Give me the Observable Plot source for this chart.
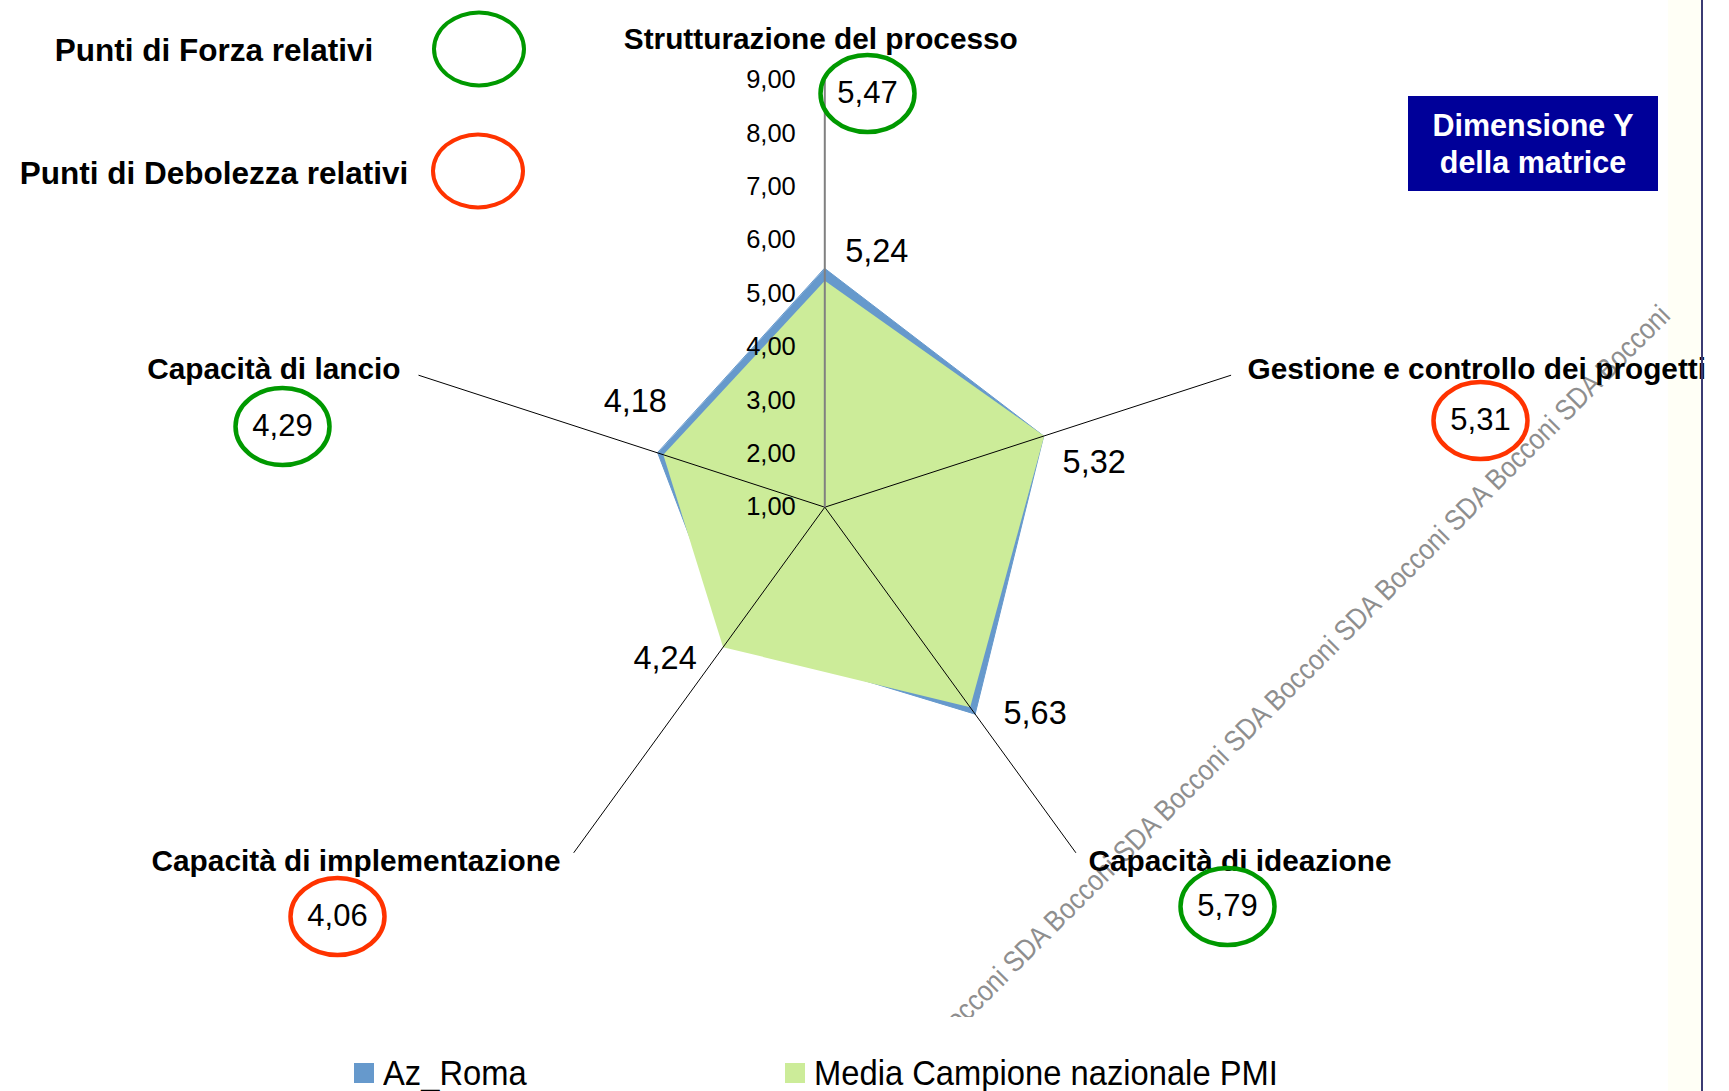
<!DOCTYPE html>
<html>
<head>
<meta charset="utf-8">
<script src="https://cdn.jsdelivr.net/npm/d3@7"></script>
<script src="https://cdn.jsdelivr.net/npm/@observablehq/plot@0.6"></script>
<style>
  html, body { margin: 0; padding: 0; background: #fff; }
  #wrap { position: relative; width: 1729px; height: 1091px; overflow: hidden; background: #fff;
          font-family: "Liberation Sans", Arial, Helvetica, sans-serif; color: #000; }
  #wm { position: absolute; left: 0; top: 0; width: 1729px; height: 1017px; overflow: hidden; z-index: 0; }
  #wmtext { position: absolute; left: 946px; top: 1044px; transform-origin: 0 0;
            transform: rotate(-45deg) scale(0.88, 1) translate(0, -0.85em); white-space: nowrap;
            font-size: 29px; line-height: 1em; color: #8e8e8e; }
  #chart { position: absolute; left: 0; top: 0; z-index: 1; }
  #chart svg { background: transparent; }
  .key { position: absolute; z-index: 2; font-weight: bold; font-size: 31.5px; white-space: nowrap;
         transform: translate(-50%, -50%); }
  .ring { position: absolute; z-index: 2; box-sizing: border-box; border-radius: 50%;
          width: 94px; height: 77px; transform: translate(-50%, -50%); border-width: 4.5px; border-style: solid; }
  #box { position: absolute; z-index: 2; left: 1408px; top: 96px; width: 250px; height: 95px; background: #000099;
         color: #fff; font-weight: bold; font-size: 30.5px; line-height: 37px; text-align: center;
         display: flex; flex-direction: column; justify-content: center; }
  #rline { position: absolute; z-index: 3; left: 1701px; top: 0; width: 2px; height: 1091px; background: #3b3b73; }
  #cream { position: absolute; z-index: 0; left: 1668px; top: 0; width: 33px; height: 1091px; background: #fffff6; }
  #legend { position: absolute; left: 0; top: 1047px; width: 1729px; height: 51px; z-index: 2; }
  .lg { position: absolute; top: 0; height: 51px; display: flex; align-items: center; white-space: nowrap; }
  .lg span { font-size: 35px; display: inline-block; transform: scaleX(0.935); transform-origin: 0 50%; }
  .sw { width: 20px; height: 20px; margin-right: 9px; }
</style>
</head>
<body>
<div id="wrap">
  <div id="cream"></div>
  <div id="wm"><div id="wmtext"></div></div>
  <div id="chart"></div>
  <div id="box"></div>
  <div id="legend"></div>
  <div id="rline"></div>
</div>
<script>
// ---------------- data ----------------
const categories = [
  "Strutturazione del processo",
  "Gestione e controllo dei progetti",
  "Capacità di ideazione",
  "Capacità di implementazione",
  "Capacità di lancio"
];
const azRoma   = [5.47, 5.31, 5.79, 4.06, 4.29];
const mediaPMI = [5.24, 5.32, 5.63, 4.24, 4.18];
const tickValues = [1, 2, 3, 4, 5, 6, 7, 8, 9];
const seriesNames = ["Az_Roma", "Media Campione nazionale PMI"];
const keyLabels = ["Punti di Forza relativi", "Punti di Debolezza relativi"];
const boxLines = ["Dimensione Y", "della matrice"];
const watermarkWord = "SDA Bocconi";

// ---------------- styles / layout ----------------
const COL_AZ = "#6699cc", COL_MEDIA = "#ccec99";
const COL_GOOD = "#009900", COL_BAD = "#ff3300";
const W = 1729, H = 1040, CX = 824.3, CY = 506.7, U = 53.4;  // px per axis unit
const rmin = 1, rmax = 9;
// label layout (px offsets from the relevant anchor point)
const catLabelLayout = [
  {anchor: "middle", dx: -4,    dy: -40.5},
  {anchor: "start",  dx: 16.4,  dy: -5.7},
  {anchor: "start",  dx: 12.6,  dy: 8.7},
  {anchor: "end",    dx: -13.2, dy: 8.7},
  {anchor: "end",    dx: -18,   dy: -5.7}
];
const mediaLabelOffset = [[52, -29], [50, 27], [65, 6], [-58, 11], [-28, -53]];
const ringOffset = [[42.7, 13.5], [249.4, 45.3], [151.6, 53.7], [-236.2, 63.7], [-136, 51.3]];
const keyPos = [[214, 50, 479, 48.5], [214, 173, 478, 171]];
const legendPos = [354, 785];

const N = categories.length;
const ang = i => i * 2 * Math.PI / N;
const P = (i, r, ox = 0, oy = 0) => [r * Math.sin(ang(i)) + ox / U, r * Math.cos(ang(i)) - oy / U];
const fmt = v => d3.format(".2f")(v).replace(".", ",");

const rows = categories.map((c, i) => {
  const [ex, ey] = P(i, rmax - rmin);
  const [ax, ay] = P(i, azRoma[i] - rmin);
  const [mx, my] = P(i, mediaPMI[i] - rmin);
  const [mlx, mly] = P(i, mediaPMI[i] - rmin, ...mediaLabelOffset[i]);
  const L = catLabelLayout[i];
  const [clx, cly] = P(i, rmax - rmin, L.dx, L.dy);
  const [rx, ry] = P(i, rmax - rmin, ...ringOffset[i]);
  return {i, cat: c, az: azRoma[i], media: mediaPMI[i], anchor: L.anchor,
          ex, ey, ax, ay, mx, my, mlx, mly, clx, cly, rx, ry};
});

const ellipseSymbol = {
  draw(ctx, size) {
    const rx = Math.sqrt(size / Math.PI), ry = rx * 0.82, k = 0.5523;
    ctx.moveTo(rx, 0);
    ctx.bezierCurveTo(rx, ry * k, rx * k, ry, 0, ry);
    ctx.bezierCurveTo(-rx * k, ry, -rx, ry * k, -rx, 0);
    ctx.bezierCurveTo(-rx, -ry * k, -rx * k, -ry, 0, -ry);
    ctx.bezierCurveTo(rx * k, -ry, rx, -ry * k, rx, 0);
    ctx.closePath();
  }
};

const FONT = "Liberation Sans, Arial, Helvetica, sans-serif";

const chart = Plot.plot({
  width: W, height: H,
  margin: 0,
  x: {domain: [-CX / U, (W - CX) / U], range: [0, W], axis: null},
  y: {domain: [-(H - CY) / U, CY / U], range: [H, 0], axis: null},
  style: {fontFamily: FONT, background: "transparent", overflow: "visible"},
  marks: [
    Plot.line(rows, {x: "ax", y: "ay", curve: "linear-closed", fill: COL_AZ, stroke: COL_AZ, strokeWidth: 1}),
    Plot.line(rows, {x: "mx", y: "my", curve: "linear-closed", fill: COL_MEDIA, stroke: "none"}),
    Plot.link(rows.filter(d => d.i > 0), {x1: () => 0, y1: () => 0, x2: "ex", y2: "ey", stroke: "#000", strokeWidth: 1}),
    Plot.link(rows.filter(d => d.i === 0), {x1: () => 0, y1: () => 0, x2: "ex", y2: "ey", stroke: "#808080", strokeWidth: 2}),
    Plot.text(tickValues, {x: () => 0, y: d => d - rmin, text: d => fmt(d), textAnchor: "end", dx: -29, fontSize: 25.5, fill: "#000"}),
    Plot.text(rows, {x: "mlx", y: "mly", text: d => fmt(d.media), fontSize: 32.5, fill: "#000"}),
    ...["middle", "start", "end"].map(a =>
      Plot.text(rows.filter(d => d.anchor === a), {x: "clx", y: "cly", text: "cat", textAnchor: a,
        fontSize: 29.8, fontWeight: "bold", fill: "#000"})),
    Plot.text(rows, {x: "rx", y: "ry", text: d => fmt(d.az), fontSize: 31, fill: "white", stroke: "white", strokeWidth: 22}),
    Plot.dot(rows.filter(d => d.az > d.media), {x: "rx", y: "ry", r: 47, symbol: ellipseSymbol, fill: "none", stroke: COL_GOOD, strokeWidth: 4.5}),
    Plot.dot(rows.filter(d => d.az <= d.media), {x: "rx", y: "ry", r: 47, symbol: ellipseSymbol, fill: "none", stroke: COL_BAD, strokeWidth: 4.5}),
    Plot.text(rows, {x: "rx", y: "ry", text: d => fmt(d.az), fontSize: 31, fill: "#000"})
  ]
});
document.getElementById("chart").appendChild(chart);

// key (top-left)
const wrap = document.getElementById("wrap");
keyLabels.forEach((t, k) => {
  const [tx, ty, ex, ey] = keyPos[k];
  const lab = document.createElement("div");
  lab.className = "key"; lab.textContent = t;
  lab.style.left = tx + "px"; lab.style.top = ty + "px";
  wrap.appendChild(lab);
  const ring = document.createElement("div");
  ring.className = "ring";
  ring.style.left = ex + "px"; ring.style.top = ey + "px";
  ring.style.borderColor = k === 0 ? COL_GOOD : COL_BAD;
  wrap.appendChild(ring);
});

// box
document.getElementById("box").innerHTML = boxLines.map(l => `<div>${l}</div>`).join("");

// watermark
document.getElementById("wmtext").textContent = "Bocconi " + Array(6).fill(watermarkWord).join(" ");

// legend
const leg = document.getElementById("legend");
seriesNames.forEach((s, k) => {
  const it = document.createElement("div");
  it.className = "lg"; it.style.left = legendPos[k] + "px";
  it.innerHTML = `<div class="sw" style="background:${k === 0 ? COL_AZ : COL_MEDIA}"></div><span>${s}</span>`;
  leg.appendChild(it);
});
</script>
</body>
</html>
